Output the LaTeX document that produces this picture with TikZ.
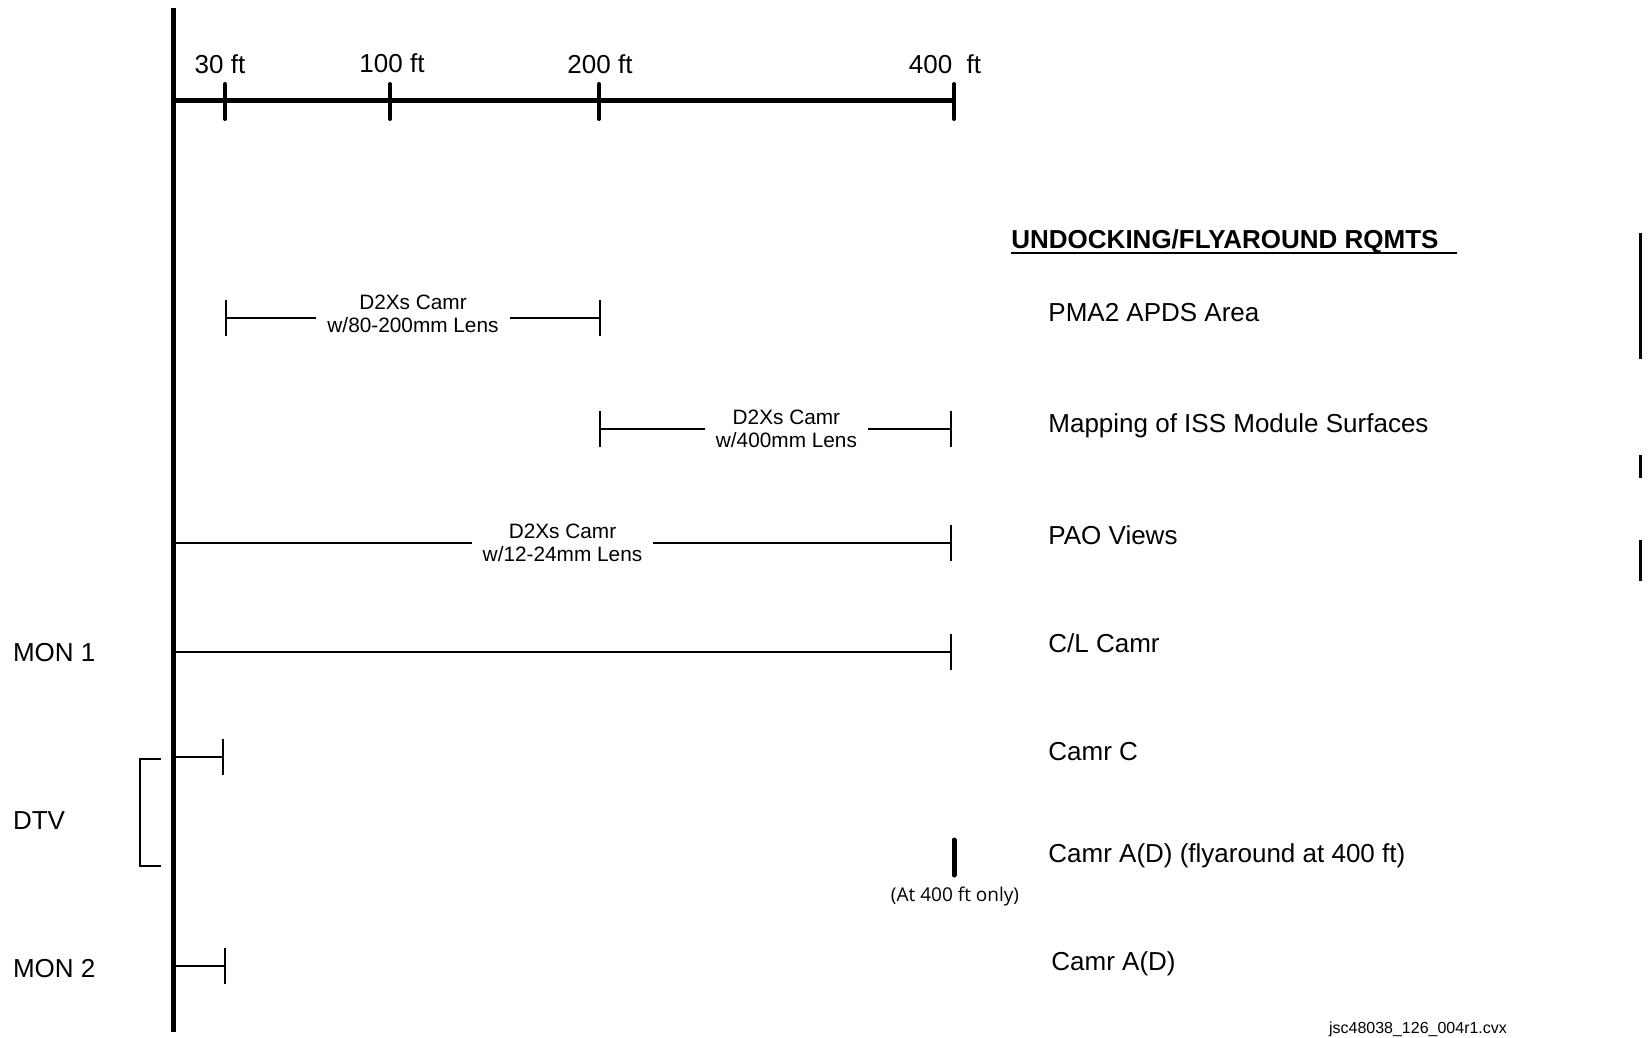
\documentclass[tikz,border=0pt]{standalone}
\usepackage{fontspec}
\setmainfont{Liberation Sans}
\newfontfamily\notefont{Open Sans}
\usetikzlibrary{arrows.meta,positioning}

\begin{document}
\begin{tikzpicture}[x=0.5pt,y=-0.5pt,
    lbl/.style={anchor=base west,inner sep=0pt,font=\fontsize{13}{15}\selectfont},
    ftlbl/.style={anchor=base,inner sep=0pt,font=\fontsize{13}{15}\selectfont},
    cam/.style={fill=white,align=center,inner xsep=5.5pt,inner ysep=1pt,
        font=\rmfamily\fontsize{10.4}{11.5}\selectfont},
    spanbar/.style={line width=1pt,{Bar[width=18pt]}-{Bar[width=18pt]}},
    endbar/.style={line width=1pt,-{Bar[width=18pt]}}]

    \useasboundingbox (0,0) rectangle (1648,1038);

    % main axis and distance scale
    \coordinate (top) at (173,8);
    \coordinate (bot) at (173,1032);
    \coordinate (O) at (173,101);
    \coordinate (t30) at (225,101);
    \coordinate (t100) at (390,101);
    \coordinate (t200) at (599,101);
    \coordinate (t400) at (954,101);

    \draw[line width=2.5pt] (top) -- (bot);
    \draw[line width=2.5pt] (O) -- (t400);
    \foreach \p in {t30,t100,t200,t400}
        \draw[line width=2pt,line cap=round] ([yshift=8.5pt]\p) -- ([yshift=-9pt]\p);

    \node[ftlbl] (l30) at (220,73.5) {30 ft};
    \node[ftlbl] (l100) at (392,72.5) {100 ft};
    \node[ftlbl] (l200) at (600,73.5) {200 ft};
    \node[ftlbl] (l400) at (945,73.5) {400~~ft};

    % heading
    \node[lbl,font=\fontsize{13}{15}\selectfont\bfseries] (head) at (1011,248.5) {UNDOCKING/FLYAROUND RQMTS};
    \coordinate (ulend) at (1457,253);
    \draw[line width=1pt] (head.base west |- ulend) -- (ulend);

    % camera ranges
    \coordinate (pmaL) at (225,317.5);
    \coordinate (pmaR) at (601,317.5);
    \draw[spanbar] (pmaL) -- (pmaR) node[cam,midway,yshift=2pt] (pmacam) {D2Xs Camr\\w/80-200mm Lens};

    \coordinate (mapL) at (599,429);
    \coordinate (mapR) at (952,429);
    \draw[spanbar] (mapL) -- (mapR) node[cam,pos=0.531] (mapcam) {D2Xs Camr\\w/400mm Lens};

    \coordinate (paoL) at (173,543);
    \coordinate (paoR) at (952,543);
    \draw[endbar] (paoL) -- (paoR) node[cam,midway] (paocam) {D2Xs Camr\\w/12-24mm Lens};

    \coordinate (clL) at (173,652);
    \coordinate (clR) at (952,652);
    \draw[endbar] (clL) -- (clR);

    \coordinate (cL) at (173,757);
    \coordinate (cR) at (224,757);
    \draw[endbar] (cL) -- (cR);

    \coordinate (adL) at (173,966);
    \coordinate (adR) at (226,966);
    \draw[endbar] (adL) -- (adR);

    % flyaround mark at 400 ft
    \coordinate (flyT) at (954,840);
    \coordinate (flyB) at (954,875);
    \draw[line width=2.5pt,line cap=round] (flyT) -- (flyB);
    \node[font=\notefont\fontsize{9.5}{11}\selectfont] (flynote) at (955,897) {(At 400 ft only)};

    % DTV bracket
    \coordinate (dtvT) at (161,759);
    \coordinate (dtvB) at (161,866);
    \draw[line width=1pt] (dtvT) -- (140,759) -- (140,866) -- (dtvB);

    % requirement labels
    \node[lbl] (pma) at (1048,321.5) {PMA2 APDS Area};
    \node[lbl] (map) at (1048,432) {Mapping of ISS Module Surfaces};
    \node[lbl] (pao) at (1048,544.5) {PAO Views};
    \node[lbl] (cl) at (1048,652.5) {C/L Camr};
    \node[lbl] (camc) at (1048,760.5) {Camr C};
    \node[lbl] (camfly) at (1048,862.5) {Camr A(D) (flyaround at 400 ft)};
    \node[lbl] (camad) at (1051,970.5) {Camr A(D)};

    % monitor labels
    \node[lbl] (mon1) at (12.6,661.5) {MON 1};
    \node[lbl] (dtv) at (12.6,829.5) {DTV};
    \node[lbl] (mon2) at (12.6,977.5) {MON 2};

    % change bars
    \draw[line width=1.5pt] (1640,233) -- (1640,359);
    \draw[line width=1.5pt] (1640,455) -- (1640,478);
    \draw[line width=1.5pt] (1640,540) -- (1640,581);

    \node[font=\fontsize{8}{10}\selectfont] (file) at (1418,1029) {jsc48038\_126\_004r1.cvx};
\end{tikzpicture}
\end{document}
